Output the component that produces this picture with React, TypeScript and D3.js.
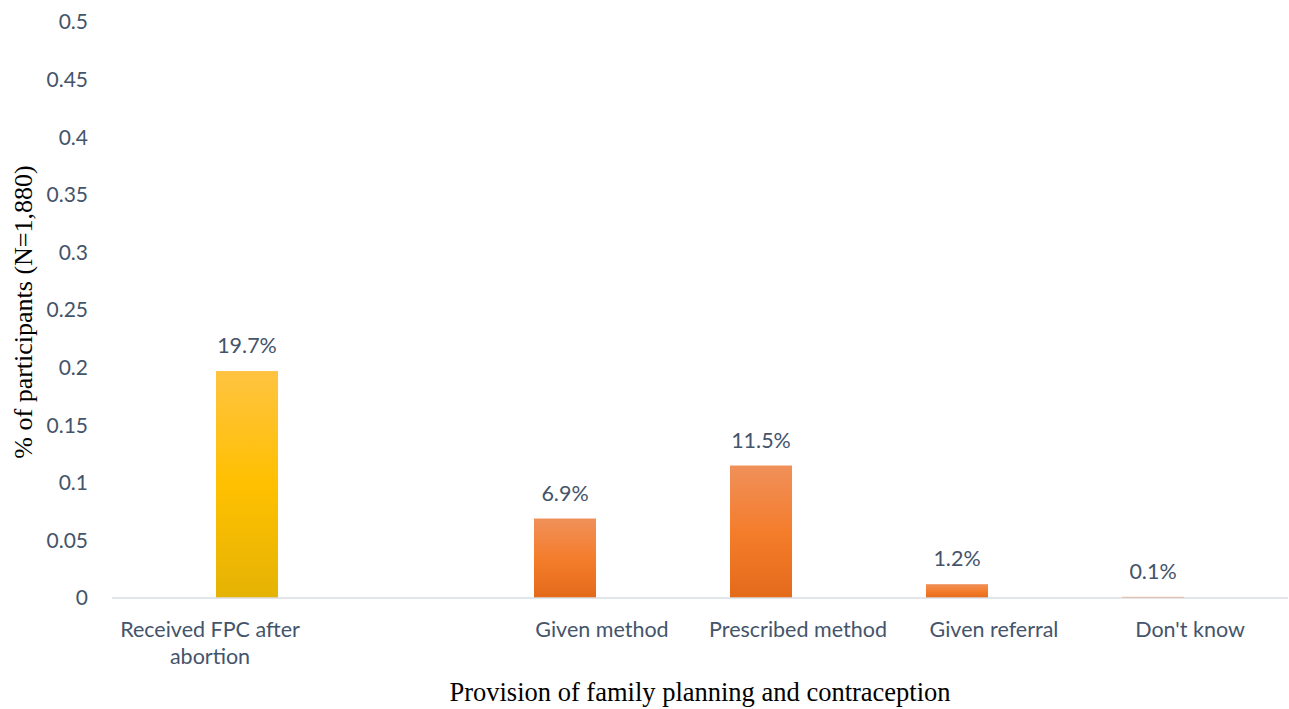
import React from "react";
import * as d3 from "d3";

const categories = ["Received FPC after abortion", "", "Given method", "Prescribed method", "Given referral", "Don't know"];
const seriesNames = ["Sub", "Main"];
const mainValues: (number | null)[] = [0.197, null, null, null, null, null];
const subValues: (number | null)[] = [null, null, 0.069, 0.115, 0.012, 0.001];
const valueLabels = ["19.7%", "", "6.9%", "11.5%", "1.2%", "0.1%"];
const yTicks = [0, 0.05, 0.1, 0.15, 0.2, 0.25, 0.3, 0.35, 0.4, 0.45, 0.5];

const W = 1289, H = 709;
const left = 112, right = 1288, top = 22, bottom = 598;
const font = "Lato, 'Open Sans', sans-serif";
const textColor = "#44546A";

function wrap(label: string): string[] {
  if (label === "Received FPC after abortion") return ["Received FPC after", "abortion"];
  return [label];
}

export default function App() {
  const x0 = d3.scaleBand<string>().domain(categories.map((c, i) => i + "")).range([left, right]).paddingInner(0).paddingOuter(0);
  const bw = x0.bandwidth();
  const x1 = d3.scaleBand<string>().domain(seriesNames).range([bw / 2 - 68, bw / 2 + 68]).paddingInner(0.162).paddingOuter(0);
  const y = d3.scaleLinear().domain([0, 0.5]).range([bottom, top]);

  const bars: { i: number; s: string; v: number }[] = [];
  categories.forEach((_, i) => {
    if (mainValues[i] != null) bars.push({ i, s: "Main", v: mainValues[i] as number });
    if (subValues[i] != null) bars.push({ i, s: "Sub", v: subValues[i] as number });
  });

  return (
    <svg width={W} height={H} style={{ position: "absolute", left: 0, top: 0, background: "#fff" }}>
      <defs>
        <linearGradient id="gMain" x1="0" y1="0" x2="0" y2="1">
          <stop offset="0" stopColor="#FFC341" />
          <stop offset="0.5" stopColor="#FFC000" />
          <stop offset="1" stopColor="#E5B304" />
        </linearGradient>
        <linearGradient id="gSub" x1="0" y1="0" x2="0" y2="1">
          <stop offset="0" stopColor="#F0905A" />
          <stop offset="0.5" stopColor="#F47D2C" />
          <stop offset="1" stopColor="#E36A1A" />
        </linearGradient>
      </defs>
      {yTicks.map((t) => (
        <text key={t} x={88} y={y(t)} dy="0.35em" textAnchor="end" fontFamily={font} fontSize={21} fill={textColor}>
          {String(t)}
        </text>
      ))}
      {bars.map((b) => {
        const bx = (x0(b.i + "") as number) + (x1(b.s) as number);
        return (
          <g key={b.i + b.s}>
            <rect x={bx} y={y(b.v)} width={x1.bandwidth()} height={y(0) - y(b.v)} fill={b.s === "Main" ? "url(#gMain)" : "url(#gSub)"} />
            <text x={bx + x1.bandwidth() / 2} y={y(b.v) - 18} textAnchor="middle" fontFamily={font} fontSize={21.5} fill={textColor}>
              {valueLabels[b.i]}
            </text>
          </g>
        );
      })}
      <line x1={left} x2={right} y1={bottom} y2={bottom} stroke="#D9DDE3" strokeWidth={1.5} />
      {categories.map((c, i) => (
        <text key={i} x={(x0(i + "") as number) + bw / 2} y={637} textAnchor="middle" fontFamily={font} fontSize={21.5} fill={textColor}>
          {wrap(c).map((l, k) => (
            <tspan key={k} x={(x0(i + "") as number) + bw / 2} dy={k === 0 ? 0 : 27}>{l}</tspan>
          ))}
        </text>
      ))}
      <text x={700} y={701} textAnchor="middle" fontFamily="'Liberation Serif', 'Times New Roman', serif" fontSize={26.5} fill="#000">
        Provision of family planning and contraception
      </text>
      <text transform={`translate(32, 312) rotate(-90)`} textAnchor="middle" fontFamily="'Liberation Serif', 'Times New Roman', serif" fontSize={26} fill="#000">
        % of participants (N=1,880)
      </text>
    </svg>
  );
}
